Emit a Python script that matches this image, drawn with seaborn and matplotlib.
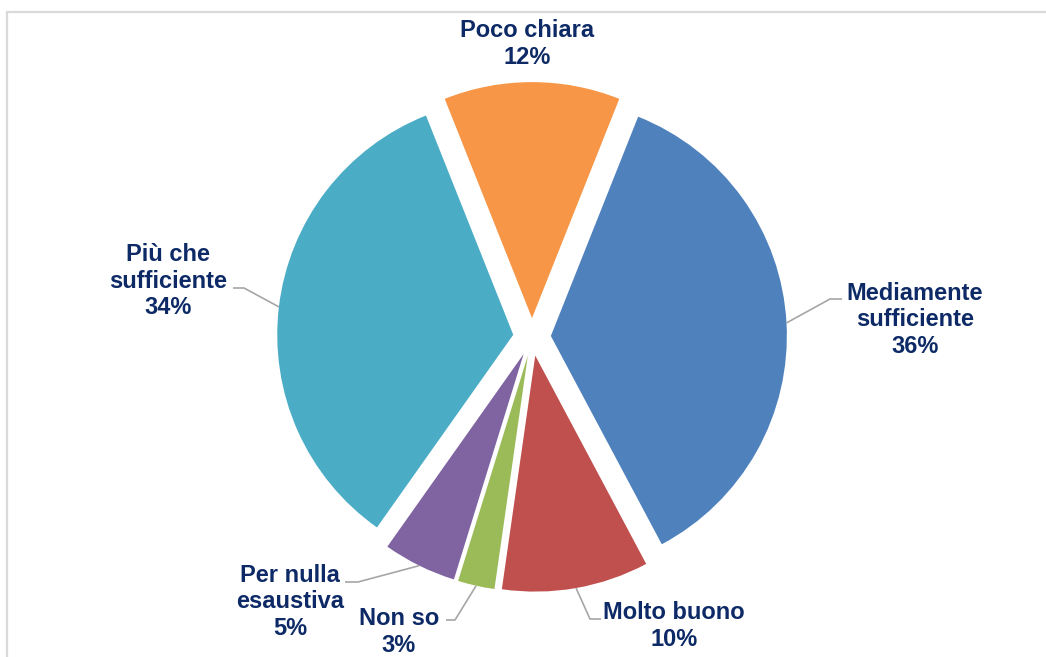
import matplotlib
matplotlib.use("Agg")
import matplotlib.pyplot as plt
import seaborn as sns
import numpy as np
from matplotlib.patches import Rectangle

# ---- data ----
categories = ["Poco chiara", "Mediamente\nsufficiente", "Molto buono", "Non so",
              "Per nulla\nesaustiva", "Più che\nsufficiente"]
values = [12.0, 36.0, 10.0, 2.5, 5.0, 34.0]
pct_labels = ["12%", "36%", "10%", "3%", "5%", "34%"]
colors = ["#F79646", "#4F81BD", "#C0504D", "#9BBB59", "#8064A2", "#4BACC6"]

# label layout (pixel coordinates, y measured from top)
text_pos = [(527, 44), (915, 320), (674, 626), (399, 632), (290, 602), (168, 281)]
elbows = [None, ((830, 299), (842, 299)), ((590, 619), (601, 619)),
          ((455, 620), (446, 620)), ((358, 582), (345, 582)),
          ((244, 288), (233, 288))]

sns.set_theme(style="white")
plt.rcParams['font.family'] = ['Liberation Sans', 'DejaVu Sans']

W, H = 1046, 657
R = 236
fig = plt.figure(figsize=(W / 100, H / 100), dpi=100)
ax = fig.add_axes([0, 0, 1, 1])

start = 90 + 180 * values[0] / sum(values)
wedges, _ = ax.pie(values, explode=[0.08 * R] * len(values), startangle=start,
                   counterclock=False, colors=sns.color_palette(colors),
                   radius=R, center=(532, H - 337),
                   wedgeprops=dict(linewidth=0))
ax.set_xlim(0, W)
ax.set_ylim(0, H)
ax.set_aspect('equal')
ax.axis('off')

# chart border
ax.add_patch(Rectangle((7, -20), W + 40, H - 12 + 20, fill=False,
                       edgecolor="#D9D9D9", linewidth=1.6, clip_on=False))

txt_color = "#0D2A66"
for w, lab, pl, tp, el in zip(wedges, categories, pct_labels, text_pos, elbows):
    ax.text(tp[0], H - tp[1], f"{lab}\n{pl}", ha='center', va='center',
            multialignment='center', fontsize=17, fontweight='bold',
            color=txt_color, linespacing=1.2)
    if el is not None:
        mid = np.deg2rad((w.theta1 + w.theta2) / 2)
        cx, cy = w.center
        ax0 = cx + w.r * np.cos(mid)
        ay0 = cy + w.r * np.sin(mid)
        (ex, ey), (fx, fy) = el
        ax.plot([ax0, ex, fx], [ay0, H - ey, H - fy], color="#A6A6A6",
                linewidth=1.2, solid_capstyle='butt')

fig.savefig("out.png", dpi=100)
